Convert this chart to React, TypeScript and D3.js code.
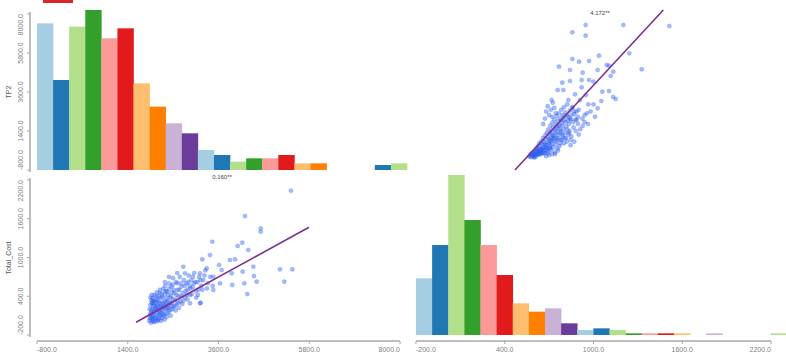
import * as d3 from 'd3'

// axis ticks shared by the matrix
const TP2_TICKS = [-800, 1400, 3600, 5800, 8000]
const COST_TICKS = [-200, 400, 1000, 1600, 2200]

// histogram counts (diagonal cells)
const TP2_HIST = [88, 54, 86, 96, 79, 85, 52, 38, 28, 22, 12, 9, 5, 7, 7, 9, 4, 4, 0, 0, 0, 3, 4]
const COST_HIST = [34, 54, 96, 69, 54, 36, 19, 14, 16, 7, 3, 4, 3, 1, 1, 1, 1, 0, 1, 0, 0, 0, 1]
const TP2_BIN = [-800, 390]   // start, width
const COST_BIN = [-200, 109]

// correlation labels
const CORR_TOP = '4.172**'
const CORR_BOTTOM = '0.160**'

// regression lines: intercept, slope, x from, x to
const REG_TOP = [-5024, 9.0, 469, 1472]      // TP2 ~ Total_Cost
const REG_BOTTOM = [-564, 0.3506, 1600, 5794] // Total_Cost ~ TP2

// top-right cell: [Total_Cost, TP2]
const PTS_TOP: [number, number][] = [
  [947,7380],[1202,7380],[1513,7323],[857,6968],[947,6776],[1242,5783],[1037,5648],[857,5462],[902,5309],[970,5349],
  [1326,4880],[767,5027],[1089,5123],[1105,5083],[841,4841],[927,4688],[1028,4841],[1134,4745],[1116,4503],[841,4221],
  [789,4125],[920,4277],[970,4277],[999,4182],[920,3866],[758,3713],[796,3713],[1060,3617],[1105,3657],[875,3470],
  [949,3431],[1150,3205],[1053,3092],[717,3149],[830,3149],[909,3149],[1028,2681],[965,2906],[963,1795],[927,1682],
  [886,2020],[785,892],[740,103],[706,441],[1000,2900],[980,2500],[900,2600],[860,2750],[940,2300],[1010,2200],
  [870,2500],[1133,3318],
  [565,-50],[572,20],[578,-80],[583,150],[590,60],[596,-20],[600,250],[604,120],[609,380],[612,40],
  [618,300],[622,520],[626,180],[630,420],[633,700],[637,260],[641,560],[645,90],[648,820],[652,380],
  [655,640],[659,1000],[662,200],[666,760],[670,480],[673,1150],[676,900],[680,300],[684,1300],[687,620],
  [690,1050],[694,1480],[697,820],[701,400],[704,1250],[708,1700],[711,980],[715,1420],[718,650],[722,1880],
  [725,1150],[729,1600],[733,850],[736,2050],[740,1350],[744,1780],[747,1020],[751,2250],[755,1550],[758,1950],
  [762,1200],[766,2400],[770,1700],[774,2100],[778,1400],[782,2600],[786,1850],[790,2300],[795,1500],[800,2750],
  [805,2000],[810,2450],[816,1650],[822,2900],[828,2200],[834,1800],[840,2550],[847,2050],[855,2700],[862,1900],
  [870,2350],[878,2050],[886,2500],[895,2200],
  [575,100],[585,-30],[592,200],[598,90],[606,-60],[615,180],[620,60],[628,340],[635,120],[643,300],
  [650,160],[657,450],[664,330],[671,140],[678,600],[686,420],[693,260],[700,700],[707,540],[714,330],
  [721,900],[728,480],[735,1100],[742,650],[749,800],[756,420],[763,1000],[770,560],[777,1300],[784,900],
  [792,1100],[800,700],[808,1300],[815,1000],[822,1500],[830,1200],[838,1400],[846,900],
  [660,1800],[672,2100],[680,2500],[690,2800],[700,2300],[712,2600],[725,3000],[735,2700],[745,2400],[720,2200],
  [760,900],[775,700],[790,1200],[805,1000],[820,800],[835,1300],[850,1100],[865,1600],[880,1400],[895,1800],
  [910,1500],[925,2100],[940,1900],[955,2400],[900,1200],[870,800],[845,600],[760,300],[740,200],[720,100],
  [700,50],[680,-20],[600,-100],[610,100],[620,250],[630,50],[640,200],[650,350],[660,150],[670,650],
  [680,450],[690,150],[700,950],[710,800],[720,1200],[730,1000],[740,1500],[750,1300],[760,1700],[770,1500],
  [780,2000],[790,1700],[800,2200],[810,1900],[820,2300],[830,2000],[840,2100],[850,2300],
]

// bottom-left cell: [TP2, Total_Cost]
const PTS_BOTTOM: [number, number][] = [
  [5357,2034],[4242,1642],[4623,1452],[4623,1399],[3449,1244],[4065,1178],[4177,1229],[4322,1116],[3394,1038],[3207,972],
  [3878,961],[4000,972],[4443,857],[3612,884],[5090,817],[5389,817],[5195,625],[4460,713],[4526,625],[4186,780],
  [3920,755],[4225,600],[3934,574],[4298,435],[3677,806],[3314,833],[3151,755],[2746,857],[2788,755],[3474,702],
  [3636,600],[3474,497],[3151,291],[2005,368],[1980,291],[1939,59],[2909,291],[3168,300],
  [1920,20],[1940,120],[1950,260],[1960,-10],[1975,340],[1985,80],[2000,200],[2010,30],[2025,150],[2040,300],
  [2055,60],[2070,220],[2085,400],[2100,110],[2115,260],[2130,40],[2145,330],[2160,180],[2175,450],[2190,90],
  [2205,280],[2220,150],[2240,380],[2255,230],[2270,100],[2290,320],[2305,480],[2320,200],[2340,360],[2360,140],
  [2375,420],[2390,270],[2410,520],[2430,190],[2450,400],[2470,300],[2490,580],[2510,240],[2530,450],[2550,350],
  [2570,620],[2590,280],[2610,500],[2635,400],[2660,700],[2680,320],[2700,550],[2730,450],[2760,650],[2790,380],
  [2820,600],[2850,500],[2880,720],[2910,420],[2940,650],[2975,540],[3010,760],[3050,480],[3090,620],[3130,700],
  [3180,560],[3230,650],[3280,800],[3340,600],
  [1930,200],[1955,60],[1970,180],[1990,300],[2005,110],[2020,250],[2035,0],[2050,170],[2065,330],[2080,60],
  [2095,200],[2110,360],[2125,130],[2140,240],[2155,50],[2170,300],[2185,160],[2200,380],[2215,220],[2230,60],
  [2250,300],[2265,180],[2285,420],[2300,120],[2315,260],[2335,480],[2350,220],[2370,330],[2395,160],[2420,300],
  [2445,250],[2470,460],[2500,350],[2540,250],[2580,420],[2620,300],[2650,500],[2700,400],[2750,330],[2800,480],
  [2850,350],[2900,560],[2950,430],[3000,600],[3060,380],[3120,500],
  [1950,380],[1965,140],[1980,420],[1995,20],[2015,330],[2030,90],[2045,420],[2060,250],[2075,10],[2090,300],
  [2105,460],[2120,190],[2135,20],[2150,400],[2165,110],[2180,500],[2195,240],[2210,20],[2225,440],[2245,120],
  [2260,520],[2280,250],[2295,40],[2310,560],[2330,300],[2345,80],[2365,470],[2380,220],[2400,600],[2425,380],
  [2440,100],[2460,550],[2480,200],[2520,500],[2560,180],[2600,600],[2640,220],[2690,600],[2720,280],[2780,560],
  [2830,420],[2870,620],[2920,520],[2980,700],[3040,620],[3100,420],[3160,650],[3210,500],[3260,720],[3320,520],
  [3400,700],[3460,560],[2600,760],[2500,680],[2400,700],[2300,620],
]

const W = 786, H = 354
const PAL = d3.schemePaired.slice(0, 10)
const FONT = 'Liberation Sans, Arial, sans-serif'
const AXC = '#a8a8a8', TXC = '#808080'

export default function App() {
  const xL = d3.scaleLinear().domain([-800, 8000]).range([37, 400])
  const xR = d3.scaleLinear().domain([-200, 2200]).range([416, 771])
  const yT = d3.scaleLinear().domain([-800, 8000]).range([170, 14])
  const yB = d3.scaleLinear().domain([-200, 2200]).range([335, 180])
  const hS = d3.scaleLinear().domain([0, 96]).range([0, 160])
  const axisX = 30, axisY = 341

  const hist = (counts: number[], bin: number[], xs: d3.ScaleLinear<number, number>, base: number, key: string) =>
    counts.map((c, i) => {
      if (!c) return null
      const x0 = xs(bin[0] + i * bin[1]), x1 = xs(bin[0] + (i + 1) * bin[1])
      return <rect key={key + i} x={x0} width={x1 - x0 + 0.3} y={base - hS(c)} height={hS(c)} fill={PAL[i % 10]} />
    })

  const yAxis = (ys: d3.ScaleLinear<number, number>, ticks: number[], key: string) => {
    const [r0, r1] = ys.range()
    return (
      <g key={key}>
        <line x1={axisX} x2={axisX} y1={r0 + 2} y2={r1 - 2} stroke={AXC} strokeWidth={1.5} />
        {ticks.map((t, i) => {
          const y = ys(t)
          const anchor = i === 0 ? 'start' : i === ticks.length - 1 ? 'end' : 'middle'
          return (
            <g key={t}>
              <line x1={axisX - 3} x2={axisX} y1={y} y2={y} stroke={AXC} strokeWidth={1} />
              <text transform={`translate(23,${y}) rotate(-90)`} textAnchor={anchor} fontSize={7}
                fill={TXC} fontFamily={FONT}>{t.toFixed(1)}</text>
            </g>
          )
        })}
      </g>
    )
  }

  const xAxis = (xs: d3.ScaleLinear<number, number>, ticks: number[], key: string) => {
    const [r0, r1] = xs.range()
    return (
      <g key={key}>
        <line x1={r0} x2={r1} y1={axisY} y2={axisY} stroke={AXC} strokeWidth={1.5} />
        {ticks.map((t, i) => {
          const x = xs(t)
          const anchor = i === 0 ? 'start' : i === ticks.length - 1 ? 'end' : 'middle'
          return (
            <g key={t}>
              <line x1={x} x2={x} y1={axisY} y2={axisY + 3} stroke={AXC} strokeWidth={1} />
              <text x={x} y={axisY + 11} textAnchor={anchor} fontSize={7} fill={TXC} fontFamily={FONT}>{t.toFixed(1)}</text>
            </g>
          )
        })}
      </g>
    )
  }

  const reg = (r: number[], xs: d3.ScaleLinear<number, number>, ys: d3.ScaleLinear<number, number>) => {
    const line = d3.line<number>().x(v => xs(v)).y(v => ys(r[0] + r[1] * v))
    return <path d={line([r[2], r[3]]) ?? ''} fill="none" stroke="#7d2f92" strokeWidth={1.6} />
  }

  const dot = (cx: number, cy: number, k: string) => (
    <circle key={k} cx={cx} cy={cy} r={2.1} fill="#2a5cf0" fillOpacity={0.42}
      stroke="#2a5cf0" strokeOpacity={0.4} strokeWidth={0.5} />
  )

  return (
    <svg width={W} height={H} style={{ position: 'fixed', left: 0, top: 0, background: '#fff' }}>
      {/* cropped legend swatch */}
      <rect x={43} y={-3} width={30} height={6} fill="#d9262c" />

      {hist(TP2_HIST, TP2_BIN, xL, 170, 'a')}
      {hist(COST_HIST, COST_BIN, xR, 335, 'b')}

      {PTS_TOP.map((p, i) => dot(xR(p[0]), yT(p[1]), 't' + i))}
      {PTS_BOTTOM.map((p, i) => dot(xL(p[0]), yB(p[1]), 'b' + i))}
      {reg(REG_TOP, xR, yT)}
      {reg(REG_BOTTOM, xL, yB)}

      <text x={600} y={15} textAnchor="middle" fontSize={6} fill="#444" fontFamily={FONT}>{CORR_TOP}</text>
      <text x={222} y={179} textAnchor="middle" fontSize={6} fill="#444" fontFamily={FONT}>{CORR_BOTTOM}</text>

      {yAxis(yT, TP2_TICKS, 'ya')}
      {yAxis(yB, COST_TICKS, 'yb')}
      {xAxis(xL, TP2_TICKS, 'xa')}
      {xAxis(xR, COST_TICKS, 'xb')}

      <text transform="translate(11,92) rotate(-90)" textAnchor="middle" fontSize={7} fill="#555" fontFamily={FONT}>TP2</text>
      <text transform="translate(11,258) rotate(-90)" textAnchor="middle" fontSize={7} fill="#555" fontFamily={FONT}>Total_Cost</text>
    </svg>
  )
}
